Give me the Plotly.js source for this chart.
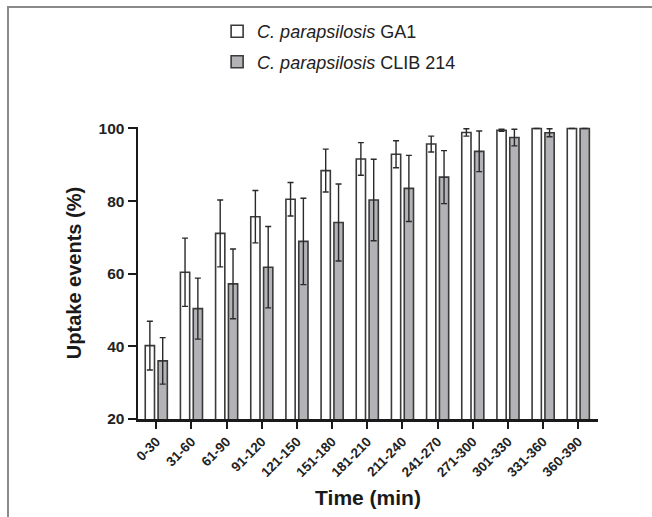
<!DOCTYPE html>
<html>
<head>
<meta charset="utf-8">
<script src="https://cdn.plot.ly/plotly-3.0.1.min.js"></script>
<style>
  html, body { margin: 0; padding: 0; background: #fff; }
  #wrap { position: relative; width: 652px; height: 517px; overflow: hidden; }
  #chart { position: absolute; left: 0; top: 0; width: 652px; height: 517px; }
  #frame { position: absolute; left: 7px; top: 6px; width: 660px; height: 520px;
           border-top: 2px solid #8a8a8a; border-left: 2px solid #8a8a8a; pointer-events: none; }
</style>
</head>
<body>
<div id="wrap">
  <div id="chart"></div>
  <div id="frame"></div>
</div>
<script>
const categories = ["0-30","31-60","61-90","91-120","121-150","151-180","181-210",
                    "211-240","241-270","271-300","301-330","331-360","360-390"];
const ga1Mean  = [40.2, 60.4, 71.1, 75.7, 80.5, 88.4, 91.6, 92.9, 95.7, 98.9, 99.5, 100, 100];
const ga1Err   = [6.7, 9.4, 9.2, 7.2, 4.6, 5.9, 4.5, 3.7, 2.2, 1.0, 0.3, 0, 0];
const clibMean = [36.0, 50.4, 57.2, 61.8, 68.9, 74.1, 80.3, 83.5, 86.6, 93.7, 97.5, 98.8, 100];
const clibErr  = [6.4, 8.4, 9.6, 11.2, 11.9, 10.6, 11.2, 9.1, 7.3, 5.6, 2.3, 1.1, 0];
const seriesNames = ["<i>C. parapsilosis</i> GA1", "<i>C. parapsilosis</i> CLIB 214"];
const yTicks = [20, 40, 60, 80, 100];

const FONT = "Arial, 'Liberation Sans', sans-serif";

const traces = [
  {
    type: "bar", x: categories, y: ga1Mean, name: seriesNames[0], legendgroup: "a",
    marker: { color: "#ffffff", line: { color: "#3a3a3a", width: 1.6 } },
    error_y: { type: "data", array: ga1Err, visible: true, color: "#2a2a2a", thickness: 1.4, width: 3 }
  },
  {
    type: "bar", x: categories, y: clibMean, name: seriesNames[1], legendgroup: "b",
    marker: { color: "#b2b2b7", line: { color: "#3a3a3a", width: 1.6 } },
    error_y: { type: "data", array: clibErr, visible: true, color: "#2a2a2a", thickness: 1.4, width: 3 }
  }
];

const layout = {
  width: 652, height: 517,
  margin: { l: 138, r: 54, t: 127, b: 98 },
  paper_bgcolor: "#ffffff", plot_bgcolor: "#ffffff",
  barmode: "group", bargap: 0.27, bargroupgap: 0.28,
  showlegend: true,
  legend: {
    x: 0.172, y: 1.39, xanchor: "left", yanchor: "top",
    font: { family: FONT, size: 18, color: "#222" },
    bgcolor: "rgba(0,0,0,0)", traceorder: "grouped", tracegroupgap: 4
  },
  xaxis: {
    type: "category", range: [-0.52, 12.56],
    showline: true, linecolor: "#1a1a1a", linewidth: 2.5,
    ticks: "outside", ticklen: 7, tickwidth: 2, tickcolor: "#1a1a1a",
    tickangle: -45,
    tickfont: { family: FONT, size: 13.5, color: "#222", weight: "bold" },
    showgrid: false, zeroline: false,
    title: { text: "Time (min)", font: { family: FONT, size: 21, color: "#1a1a1a", weight: "bold" }, standoff: 12 }
  },
  yaxis: {
    range: [20, 100.4], tickvals: yTicks, ticktext: yTicks.map(String),
    showline: true, linecolor: "#1a1a1a", linewidth: 2.5,
    ticks: "outside", ticklen: 8, tickwidth: 2, tickcolor: "#1a1a1a",
    tickfont: { family: FONT, size: 15.5, color: "#222", weight: "bold" },
    showgrid: false, zeroline: false,
    title: { text: "Uptake events (%)", font: { family: FONT, size: 20, color: "#1a1a1a", weight: "bold" }, standoff: 12 }
  }
};

Plotly.newPlot("chart", traces, layout, { displayModeBar: false, staticPlot: true });
</script>
</body>
</html>
